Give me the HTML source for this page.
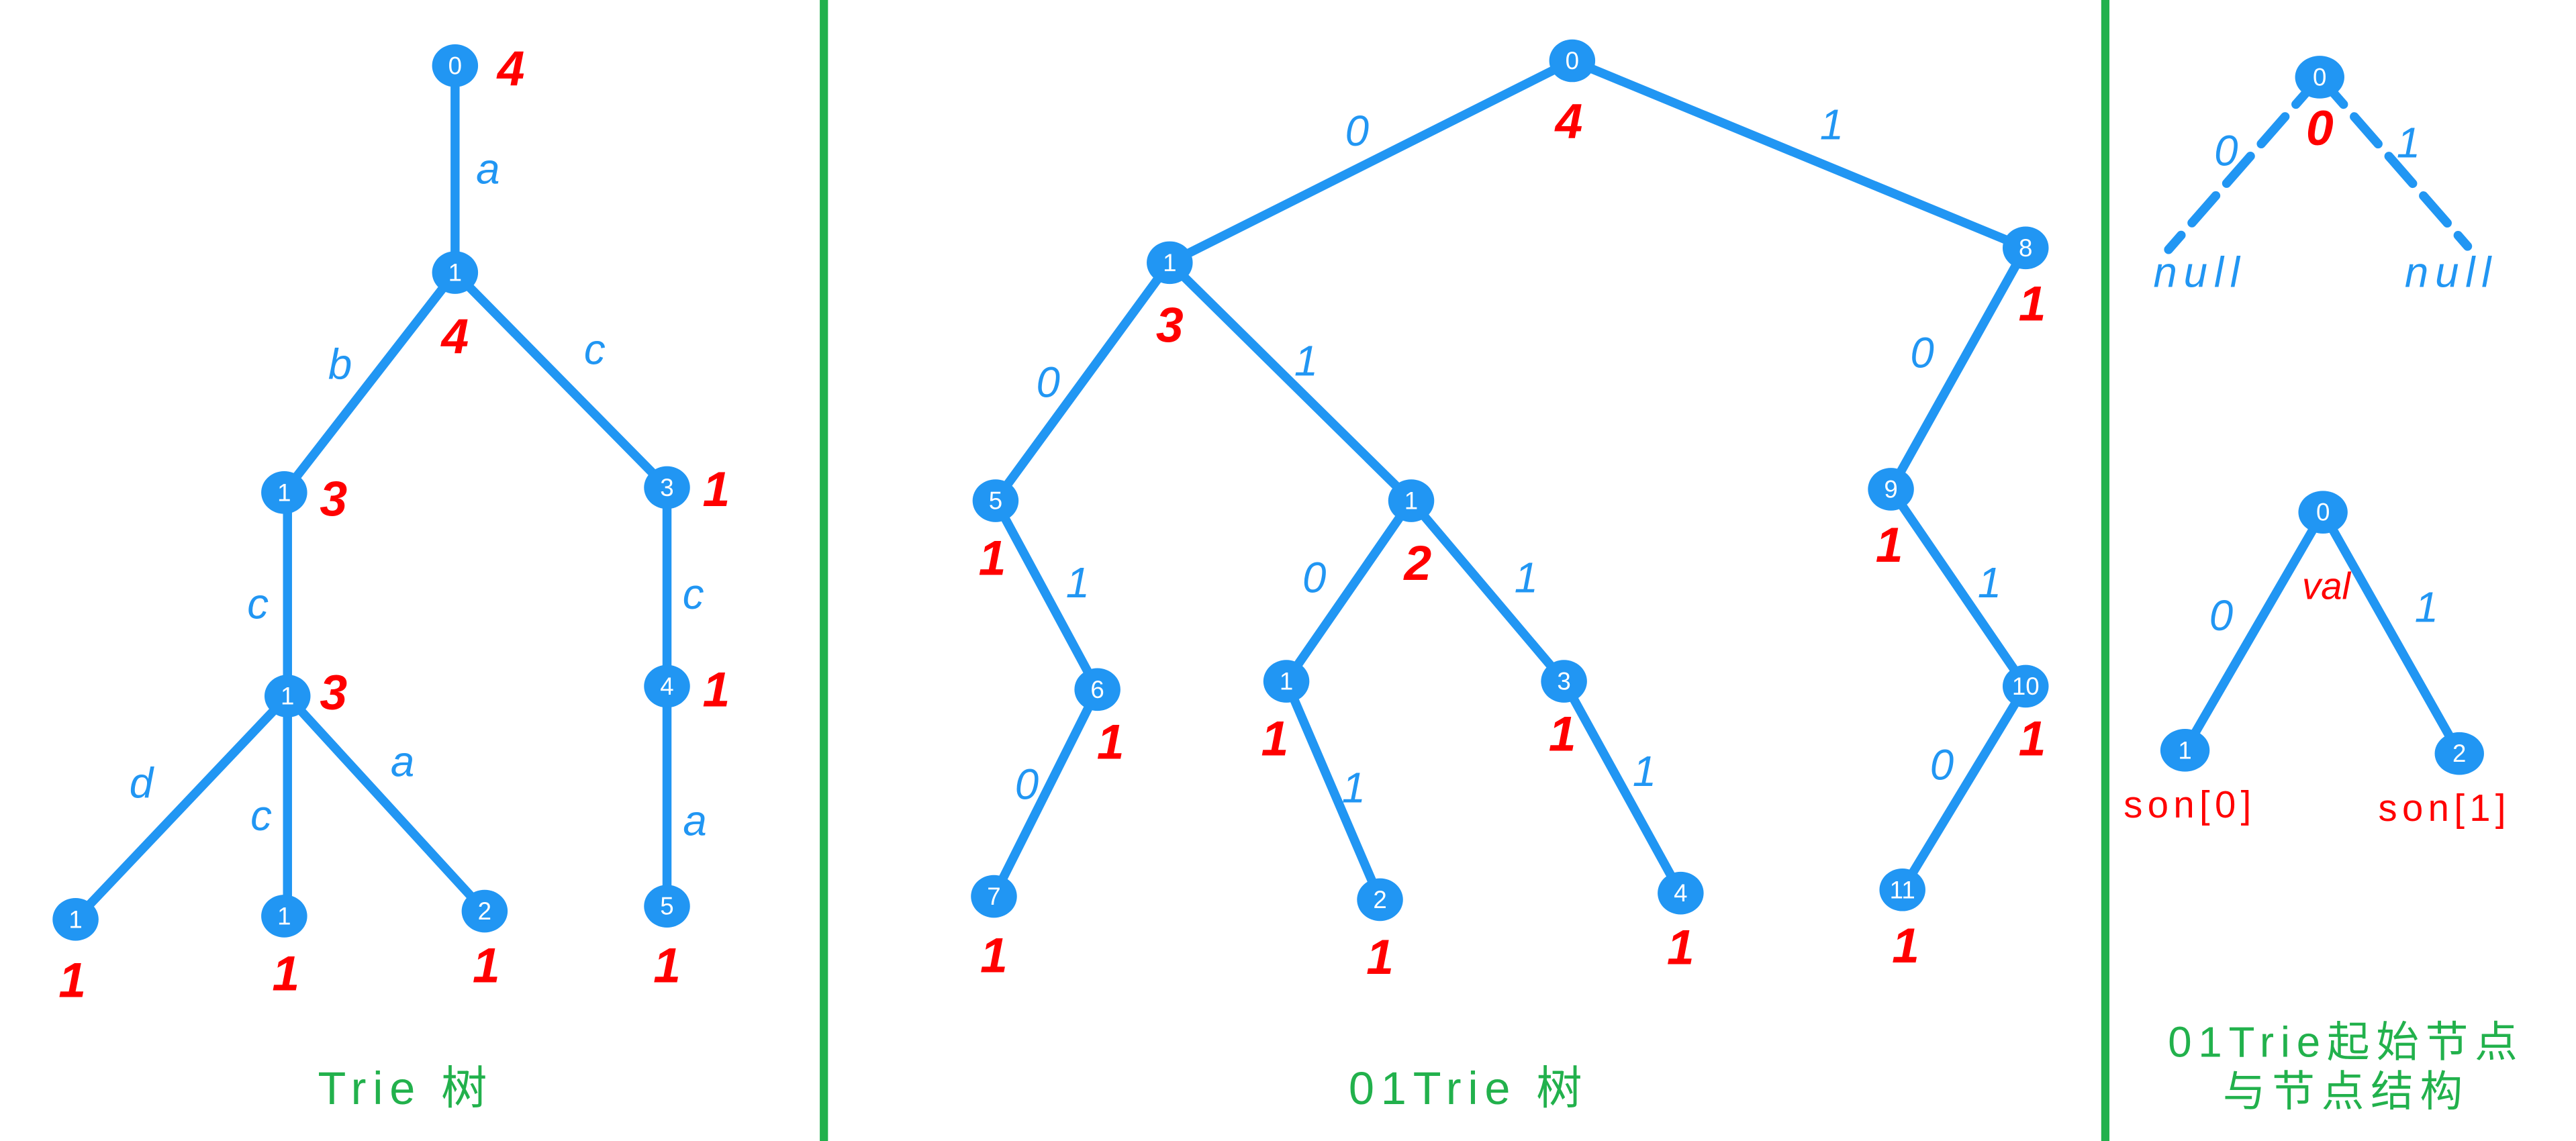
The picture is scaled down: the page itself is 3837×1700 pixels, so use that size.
<!DOCTYPE html>
<html><head><meta charset="utf-8"><style>
html,body{margin:0;padding:0;background:#fff;}
svg{display:block}
.e{stroke:#2196F3;stroke-width:5.5;fill:none;stroke-linecap:round}
.n{fill:#2196F3}
.nl{fill:#fff;font:15px "Liberation Sans",sans-serif;text-anchor:middle;dominant-baseline:central}
.b{fill:#2196F3;font:italic 26px "Liberation Sans",sans-serif;text-anchor:middle;dominant-baseline:central}
.r{fill:#f00;font:italic 600 30px "Liberation Sans",sans-serif;text-anchor:middle;dominant-baseline:central}
.g{fill:#22b14c;font:28px "Liberation Sans","Noto Sans CJK SC",sans-serif;text-anchor:middle;dominant-baseline:central;letter-spacing:4px}
</style></head><body>
<svg width="3837" height="1700" viewBox="0 0 1568 695" preserveAspectRatio="none" xmlns="http://www.w3.org/2000/svg">
<rect x="499" y="0" width="5" height="695" fill="#22b14c"/>
<rect x="1279" y="0" width="5" height="695" fill="#22b14c"/>
<g class="e">
<line x1="277" y1="40" x2="277" y2="166"/>
<line x1="277" y1="166" x2="173" y2="300"/>
<line x1="277" y1="166" x2="406" y2="297"/>
<line x1="175" y1="300" x2="175" y2="424"/>
<line x1="406" y1="297" x2="406" y2="552"/>
<line x1="175" y1="424" x2="46" y2="560"/>
<line x1="175" y1="424" x2="175" y2="558"/>
<line x1="175" y1="424" x2="295" y2="555"/>
</g>
<g class="e">
<line x1="957" y1="37" x2="712" y2="160"/>
<line x1="957" y1="37" x2="1233" y2="151"/>
<line x1="712" y1="160" x2="606" y2="305"/>
<line x1="712" y1="160" x2="859" y2="305"/>
<line x1="1233" y1="151" x2="1151" y2="298"/>
<line x1="606" y1="305" x2="668" y2="420"/>
<line x1="859" y1="305" x2="783" y2="415"/>
<line x1="859" y1="305" x2="952" y2="415"/>
<line x1="1151" y1="298" x2="1233" y2="418"/>
<line x1="668" y1="420" x2="605" y2="546"/>
<line x1="783" y1="415" x2="840" y2="548"/>
<line x1="952" y1="415" x2="1023" y2="544"/>
<line x1="1233" y1="418" x2="1158" y2="542"/>
</g>
<g class="e">
<line x1="1412" y1="47" x2="1320" y2="152" stroke-dasharray="22 10"/>
<line x1="1412" y1="47" x2="1502" y2="150" stroke-dasharray="22 10"/>
<line x1="1414" y1="312" x2="1330" y2="457"/>
<line x1="1414" y1="312" x2="1497" y2="459"/>
</g>
<g>
<ellipse class="n" cx="277" cy="40" rx="14" ry="13"/><text class="nl" x="277" y="40">0</text>
<ellipse class="n" cx="277" cy="166" rx="14" ry="13"/><text class="nl" x="277" y="166">1</text>
<ellipse class="n" cx="173" cy="300" rx="14" ry="13"/><text class="nl" x="173" y="300">1</text>
<ellipse class="n" cx="406" cy="297" rx="14" ry="13"/><text class="nl" x="406" y="297">3</text>
<ellipse class="n" cx="175" cy="424" rx="14" ry="13"/><text class="nl" x="175" y="424">1</text>
<ellipse class="n" cx="406" cy="418" rx="14" ry="13"/><text class="nl" x="406" y="418">4</text>
<ellipse class="n" cx="46" cy="560" rx="14" ry="13"/><text class="nl" x="46" y="560">1</text>
<ellipse class="n" cx="173" cy="558" rx="14" ry="13"/><text class="nl" x="173" y="558">1</text>
<ellipse class="n" cx="295" cy="555" rx="14" ry="13"/><text class="nl" x="295" y="555">2</text>
<ellipse class="n" cx="406" cy="552" rx="14" ry="13"/><text class="nl" x="406" y="552">5</text>

<ellipse class="n" cx="957" cy="37" rx="14" ry="13"/><text class="nl" x="957" y="37">0</text>
<ellipse class="n" cx="712" cy="160" rx="14" ry="13"/><text class="nl" x="712" y="160">1</text>
<ellipse class="n" cx="1233" cy="151" rx="14" ry="13"/><text class="nl" x="1233" y="151">8</text>
<ellipse class="n" cx="606" cy="305" rx="14" ry="13"/><text class="nl" x="606" y="305">5</text>
<ellipse class="n" cx="859" cy="305" rx="14" ry="13"/><text class="nl" x="859" y="305">1</text>
<ellipse class="n" cx="1151" cy="298" rx="14" ry="13"/><text class="nl" x="1151" y="298">9</text>
<ellipse class="n" cx="668" cy="420" rx="14" ry="13"/><text class="nl" x="668" y="420">6</text>
<ellipse class="n" cx="783" cy="415" rx="14" ry="13"/><text class="nl" x="783" y="415">1</text>
<ellipse class="n" cx="952" cy="415" rx="14" ry="13"/><text class="nl" x="952" y="415">3</text>
<ellipse class="n" cx="1233" cy="418" rx="14" ry="13"/><text class="nl" x="1233" y="418">10</text>
<ellipse class="n" cx="605" cy="546" rx="14" ry="13"/><text class="nl" x="605" y="546">7</text>
<ellipse class="n" cx="840" cy="548" rx="14" ry="13"/><text class="nl" x="840" y="548">2</text>
<ellipse class="n" cx="1023" cy="544" rx="14" ry="13"/><text class="nl" x="1023" y="544">4</text>
<ellipse class="n" cx="1158" cy="542" rx="14" ry="13"/><text class="nl" x="1158" y="542">11</text>

<ellipse class="n" cx="1412" cy="47" rx="15" ry="13"/><text class="nl" x="1412" y="47">0</text>
<ellipse class="n" cx="1414" cy="312" rx="15" ry="13"/><text class="nl" x="1414" y="312">0</text>
<ellipse class="n" cx="1330" cy="457" rx="15" ry="13"/><text class="nl" x="1330" y="457">1</text>
<ellipse class="n" cx="1497" cy="459" rx="15" ry="13"/><text class="nl" x="1497" y="459">2</text>
</g>
<g>
<text class="b" x="297" y="103">a</text>
<text class="b" x="207" y="222">b</text>
<text class="b" x="362" y="213">c</text>
<text class="b" x="157" y="368">c</text>
<text class="b" x="422" y="362">c</text>
<text class="b" x="86" y="477">d</text>
<text class="b" x="159" y="497">c</text>
<text class="b" x="245" y="464">a</text>
<text class="b" x="423" y="500">a</text>

<text class="b" x="826" y="80">0</text>
<text class="b" x="1115" y="76">1</text>
<text class="b" x="638" y="233">0</text>
<text class="b" x="795" y="220">1</text>
<text class="b" x="1170" y="215">0</text>
<text class="b" x="656" y="355">1</text>
<text class="b" x="800" y="352">0</text>
<text class="b" x="929" y="352">1</text>
<text class="b" x="1211" y="355">1</text>
<text class="b" x="625" y="478">0</text>
<text class="b" x="824" y="480">1</text>
<text class="b" x="1001" y="470">1</text>
<text class="b" x="1182" y="466">0</text>

<text class="b" x="1355" y="92">0</text>
<text class="b" x="1466" y="87">1</text>
<text class="b" x="1339" y="166" style="letter-spacing:4px">null</text>
<text class="b" x="1492" y="166" style="letter-spacing:4px">null</text>
<text class="b" x="1352" y="375">0</text>
<text class="b" x="1477" y="370">1</text>
</g>
<g>
<text class="r" x="311" y="42">4</text>
<text class="r" x="277" y="205">4</text>
<text class="r" x="203" y="304">3</text>
<text class="r" x="436" y="298">1</text>
<text class="r" x="203" y="422">3</text>
<text class="r" x="436" y="420">1</text>
<text class="r" x="44" y="597">1</text>
<text class="r" x="174" y="593">1</text>
<text class="r" x="296" y="588">1</text>
<text class="r" x="406" y="588">1</text>

<text class="r" x="955" y="74">4</text>
<text class="r" x="712" y="198">3</text>
<text class="r" x="1237" y="185">1</text>
<text class="r" x="604" y="340">1</text>
<text class="r" x="863" y="343">2</text>
<text class="r" x="1150" y="332">1</text>
<text class="r" x="676" y="452">1</text>
<text class="r" x="776" y="450">1</text>
<text class="r" x="951" y="447">1</text>
<text class="r" x="1237" y="450">1</text>
<text class="r" x="605" y="582">1</text>
<text class="r" x="840" y="583">1</text>
<text class="r" x="1023" y="577">1</text>
<text class="r" x="1160" y="576">1</text>

<text class="r" x="1412" y="78">0</text>
<text class="r" x="1416" y="357" style="font-size:23px;font-weight:normal">val</text>
<text class="r" x="1333" y="490" style="font-size:23px;font-style:normal;font-weight:normal;letter-spacing:3px">son[0]</text>
<text class="r" x="1488" y="492" style="font-size:23px;font-style:normal;font-weight:normal;letter-spacing:3px">son[1]</text>
</g>
<text class="g" x="247" y="663">Trie 树</text>
<text class="g" x="894" y="663">01Trie 树</text>
<text class="g" x="1428" y="635" style="font-size:26px">01Trie起始节点</text>
<text class="g" x="1428" y="665" style="font-size:26px">与节点结构</text>
</svg>
</body></html>
